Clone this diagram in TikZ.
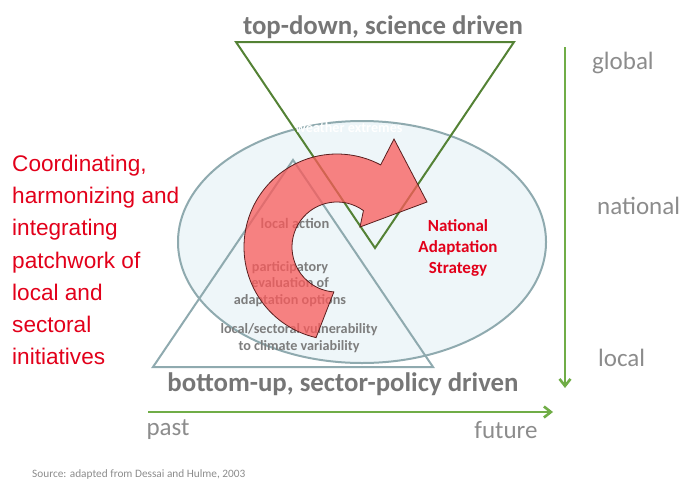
\documentclass[tikz,border=0pt]{standalone}
\usepackage{fontspec}
\setmainfont{Carlito}
\newfontfamily\arialfont{Liberation Sans}
\usetikzlibrary{arrows.meta}
\definecolor{titlegray}{RGB}{118,118,118}
\definecolor{levelgray}{RGB}{140,140,140}
\definecolor{innergray}{RGB}{125,125,125}
\definecolor{textred}{RGB}{226,0,26}
\definecolor{axisgreen}{RGB}{112,173,71}
\definecolor{trigreen}{RGB}{84,130,53}
\definecolor{trigray}{RGB}{143,170,175}
\definecolor{ovalfill}{RGB}{238,246,249}
\definecolor{arrowred}{RGB}{250,90,90}
\definecolor{arrowline}{RGB}{90,30,30}

\begin{document}
\begin{tikzpicture}[x=1pt,y=-1pt]
\tikzstyle{titlestyle}=[text=titlegray, font=\bfseries\fontsize{26.8}{30}\selectfont, inner sep=0pt]
\tikzstyle{levelstyle}=[text=levelgray, font=\fontsize{25}{30}\selectfont, inner sep=0pt]
\tikzstyle{innerstyle}=[text=innergray, font=\bfseries\fontsize{14.2}{16.5}\selectfont, align=center, inner sep=0pt]
\tikzstyle{axisstyle}=[draw=axisgreen, line width=2.6pt, -{Straight Barb[length=7pt,width=11pt]}]
\useasboundingbox (0,0) rectangle (684,479);
    % scale and oval
    \draw[trigray, line width=2pt, fill=ovalfill] (362,242) ellipse [x radius=184, y radius=121];
    \draw[trigray, line width=2pt, line join=miter] (293,160) -- (153,367) -- (433,367) -- cycle;
    \draw[trigreen, line width=2pt, line join=miter] (236,42) -- (514,42) -- (375,248) -- cycle;
    % labels
    \node[titlestyle] (top) at (383,27) {top-down, science driven};
    \node[titlestyle] (bottom) at (343,384) {bottom-up, sector-policy driven};
    \node[levelstyle, anchor=west] (global) at (592,63) {global};
    \node[levelstyle, anchor=west] (national) at (597,206) {national};
    \node[levelstyle, anchor=west] (local) at (598,358) {local};
    \node[levelstyle] (past) at (168,430) {past};
    \node[levelstyle] (future) at (506,430) {future};
    \node[text=textred, font=\arialfont\fontsize{22.6}{32.2}\selectfont, align=left, anchor=north west, inner sep=0pt] (coord) at (12,155)
        {Coordinating,\\harmonizing and\\integrating\\patchwork of\\local and\\sectoral\\initiatives};
    \node[innerstyle, font=\bfseries\fontsize{14.5}{16.5}\selectfont] (action) at (295,223) {local action};
    \node[innerstyle] (participatory) at (290,284) {participatory\\evaluation of\\adaptation options};
    \node[innerstyle] (vulnerability) at (299,338) {local/sectoral vulnerability\\to climate variability};
    \node[innerstyle, text=white] (weather) at (349,128) {weather extremes};
    % curved arrow
    \coordinate (ac) at (337,247);
    \draw[draw=arrowline, line width=0.8pt, fill=arrowred, fill opacity=0.75, line join=miter]
        (ac) ++(103:93) arc[start angle=103, end angle=298, radius=93]
        -- (394,139) -- (427,202) -- (360,227)
        -- ([shift={(306:45)}]ac) arc[start angle=306, end angle=94, radius=45] -- cycle;
    \node[innerstyle, text=textred, font=\bfseries\fontsize{17}{21}\selectfont] (nas) at (458,248) {National\\Adaptation\\Strategy};
    % axes
    \coordinate (vtop) at (565,47);
    \coordinate (vbot) at (565,388);
    \coordinate (hleft) at (148,412);
    \coordinate (hright) at (553,412);
    \draw[axisstyle] (vtop) -- (vbot);
    \draw[axisstyle] (hleft) -- (hright);
    \node[text=levelgray, font=\fontsize{11.3}{13}\selectfont, anchor=west, inner sep=0pt] (source) at (32,474) {Source: adapted from Dessai and Hulme, 2003};
\end{tikzpicture}
\end{document}
